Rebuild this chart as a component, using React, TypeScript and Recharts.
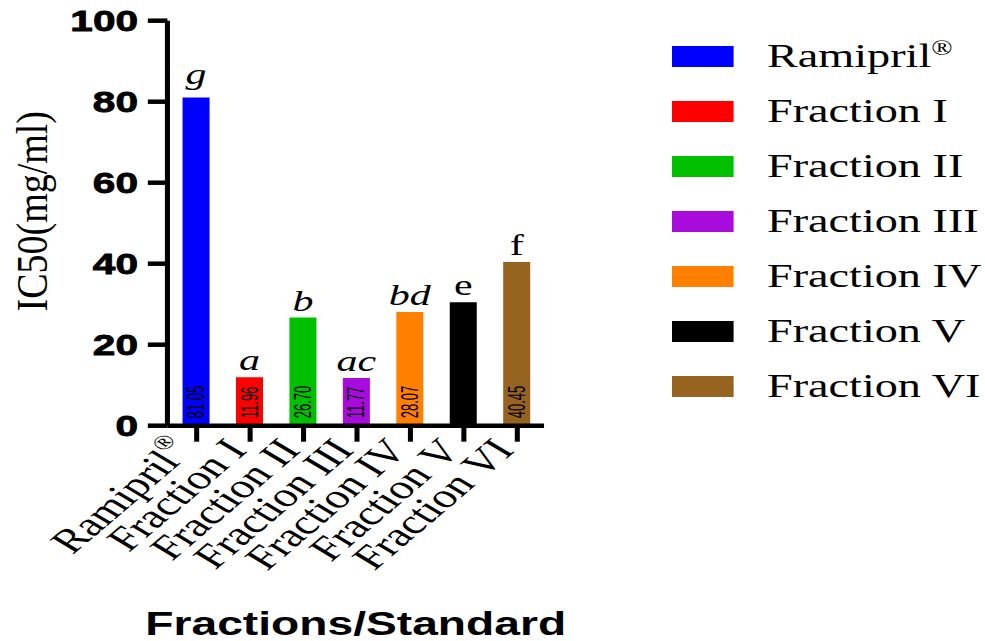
import React from 'react'
import { BarChart, Bar, XAxis, YAxis, Cell, LabelList, Label } from 'recharts'

const groups = ['Ramipril®', 'Fraction I', 'Fraction II', 'Fraction III', 'Fraction IV', 'Fraction V', 'Fraction VI']
const ic50 = [81.05, 11.96, 26.7, 11.77, 28.07, 30.5, 40.45]
const letters = ['g', 'a', 'b', 'ac', 'bd', 'e', 'f']
const italicLetters = [true, true, true, true, true, false, false]
const barColors = ['#0000ff', '#ff0000', '#00c000', '#a80cdc', '#ff8000', '#000000', '#966321']
const yTicks = [0, 20, 40, 60, 80, 100]

const data = groups.map((name, i) => ({ name, value: ic50[i], letter: letters[i] }))

// the source figure is stretched sideways, so draw narrow and scale x
const SX = 1.4
const W = 985 / SX
const H = 641
const SERIF = '"Liberation Serif", "Times New Roman", serif'
const SANS = '"Liberation Sans", Arial, sans-serif'

const splitReg = (s: string) => (s.endsWith('®') ? [s.slice(0, -1), true] : [s, false]) as [string, boolean]

const XTick = ({ x, y, payload }: any) => {
  const [base, reg] = splitReg(String(payload.value))
  const ax = x - 10
  return (
    <text
      x={ax}
      y={y}
      transform={`rotate(-50, ${ax}, ${y})`}
      textAnchor="end"
      dominantBaseline="central"
      fontFamily={SERIF}
      fontSize={34}
      fill="#000"
    >
      {base}
      {reg && (
        <tspan fontSize={20} dy={-12}>
          ®
        </tspan>
      )}
    </text>
  )
}

const ValueLabel = (p: any) => {
  const cx = p.x + p.width / 2
  const by = p.y + p.height - 7.5
  return (
    <text
      x={0}
      y={0}
      transform={`translate(${cx}, ${by}) rotate(-90) scale(1, 1.3)`}
      textAnchor="start"
      dominantBaseline="central"
      fontFamily={SANS}
      fontSize={13}
      fill="#000"
    >
      {Number(p.value).toFixed(2)}
    </text>
  )
}

const LetterLabel = (p: any) => {
  const i = letters.indexOf(p.value)
  const lift = /[gjpqy]/.test(String(p.value)) ? 13 : 7
  return (
    <text
      x={p.x + p.width / 2}
      y={p.y - lift}
      textAnchor="middle"
      fontFamily={SERIF}
      fontSize={30}
      fontStyle={italicLetters[i] ? 'italic' : 'normal'}
      fill="#000"
    >
      {p.value}
    </text>
  )
}

const YTitle = ({ viewBox }: any) => {
  const cx = (viewBox?.x ?? 0) + 23
  const cy = (viewBox?.y ?? 20) + (viewBox?.height ?? 405) / 2 - 12
  return (
    <text
      x={0}
      y={0}
      transform={`translate(${cx}, ${cy}) rotate(-90) scale(1, 0.85)`}
      textAnchor="middle"
      dominantBaseline="central"
      fontFamily={SERIF}
      fontSize={38}
      fill="#000"
    >
      IC50(mg/ml)
    </text>
  )
}

export default function App() {
  return (
    <div style={{ position: 'absolute', left: 0, top: 0, width: W, height: H, transform: `scaleX(${SX})`, transformOrigin: '0 0', background: '#fff' }}>
      <BarChart width={W} height={H} data={data} margin={{ top: 20.7, right: W - 388.6, left: 0, bottom: 0 }}>
        <YAxis
          domain={[0, 100]}
          ticks={yTicks}
          width={119.6}
          tickSize={14}
          tickMargin={7}
          axisLine={{ stroke: '#000', strokeWidth: 3.6 }}
          tickLine={{ stroke: '#000', strokeWidth: 4.5 }}
          tick={{ fill: '#000', stroke: '#000', strokeWidth: 0.8, fontFamily: SANS, fontWeight: 'bold', fontSize: 29 }}
        >
          <Label content={<YTitle />} />
        </YAxis>
        <XAxis
          dataKey="name"
          interval={0}
          height={H - 425.7}
          padding={{ left: 1.8, right: 0 }}
          tickSize={16}
          tickMargin={2}
          axisLine={{ stroke: '#000', strokeWidth: 4.5 }}
          tickLine={{ stroke: '#000', strokeWidth: 3.6 }}
          tick={<XTick />}
        >
          <Label
            value="Fractions/Standard"
            position="insideBottom"
            offset={6}
            style={{ fontFamily: SANS, fontWeight: 'bold', fontSize: 33, fill: '#000' }}
          />
        </XAxis>
        <Bar dataKey="value" barSize={19.3} isAnimationActive={false}>
          {data.map((d, i) => (
            <Cell key={d.name} fill={barColors[i]} />
          ))}
          <LabelList dataKey="value" content={<ValueLabel />} />
          <LabelList dataKey="letter" content={<LetterLabel />} />
        </Bar>
      </BarChart>
      <div style={{ position: 'absolute', left: 672 / SX, top: 29 }}>
        {groups.map((g, i) => {
          const [base, reg] = splitReg(g)
          return (
            <div key={g} style={{ display: 'flex', alignItems: 'center', height: 55 }}>
              <div style={{ width: 61 / SX, height: 21, background: barColors[i] }} />
              <div
                style={{
                  marginLeft: (767 - 733) / SX,
                  fontFamily: SERIF,
                  fontSize: 33,
                  lineHeight: 1,
                  color: '#000',
                  whiteSpace: 'nowrap',
                }}
              >
                {base}
                {reg && <sup style={{ fontSize: 20, lineHeight: 0 }}>®</sup>}
              </div>
            </div>
          )
        })}
      </div>
    </div>
  )
}
